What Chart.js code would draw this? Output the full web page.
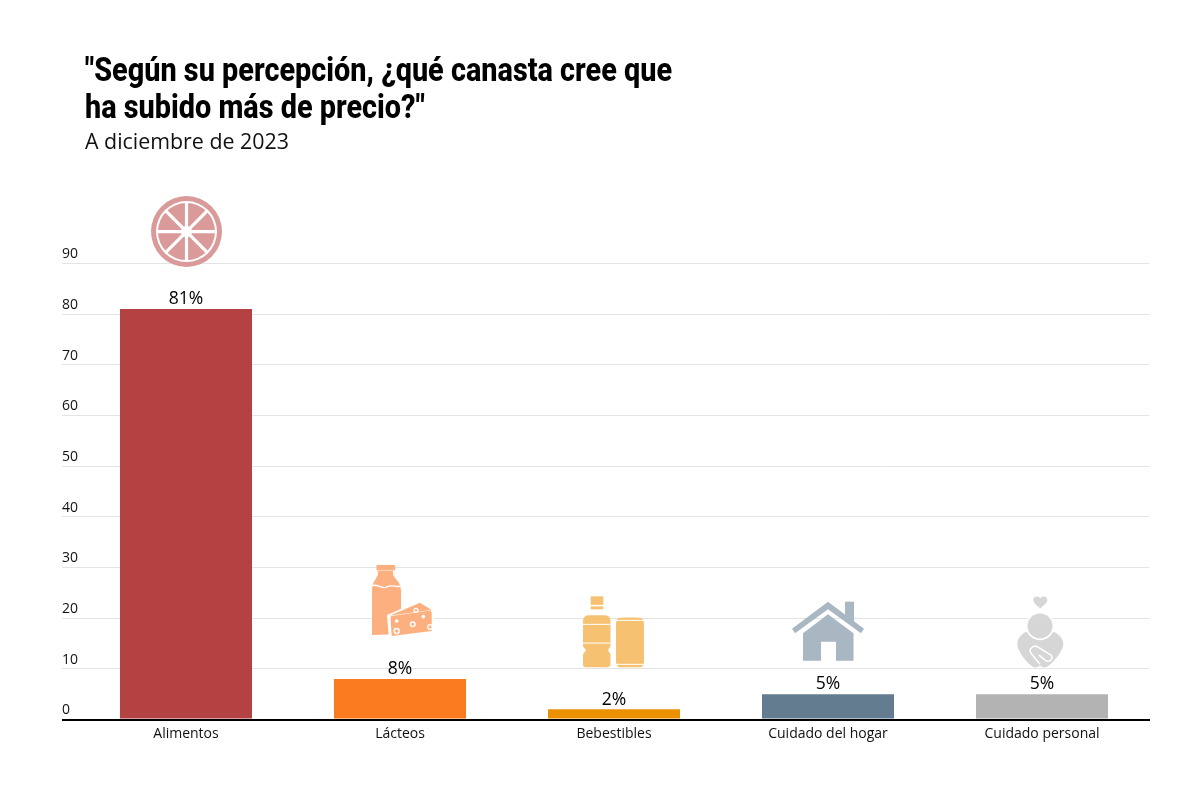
<!DOCTYPE html>
<html>
<head>
<meta charset="utf-8">
<title>Canastas</title>
<script src="https://cdn.jsdelivr.net/npm/chart.js@4"></script>
<style>
    body { margin: 0; background: #fff; width: 1200px; height: 800px; overflow: hidden; position: relative; }
    #chart { position: absolute; left: 0; top: 0; }
    h1 { position: absolute; left: 85px; top: 51px; margin: 0; font: 800 34px/37px Roboto, sans-serif; color: #000; white-space: nowrap; transform: scaleX(0.848); transform-origin: left top; }
    h2 { position: absolute; left: 85px; top: 126px; margin: 0; font: normal 21.4px/30px "Open Sans", sans-serif; color: #111; white-space: nowrap; }
</style>
</head>
<body>
<canvas id="chart" width="1200" height="800"></canvas>
<h1>"Según su percepción, ¿qué canasta cree que<br>ha subido más de precio?"</h1>
<h2>A diciembre de 2023</h2>
<script>
const categories = ['Alimentos', 'Lácteos', 'Bebestibles', 'Cuidado del hogar', 'Cuidado personal'];
const values = [81, 8, 2, 5, 5];
const barColors = ['#B54242', '#F97A1F', '#EB9100', '#637C90', '#B3B3B3'];
const iconColors = ['#DA9A9A', '#FDB07F', '#F6C272', '#A9B7C2', '#D6D6D6'];
const iconNames = ['citrus', 'dairy', 'drinks', 'house', 'person'];
const tickFont = { family: '"Open Sans", sans-serif', size: 14 };

// icons are drawn around (0,0)
const icons = {
    citrus(ctx, color) {
        ctx.translate(0.5, 0.5);
        ctx.fillStyle = color;
        ctx.beginPath();
        ctx.arc(0, 0, 35.5, 0, Math.PI * 2);
        ctx.fill();
        ctx.fillStyle = '#fff';
        ctx.beginPath();
        ctx.arc(0, 0, 30.5, 0, Math.PI * 2);
        ctx.fill();
        ctx.fillStyle = color;
        ctx.beginPath();
        ctx.arc(0, 0, 28.5, 0, Math.PI * 2);
        ctx.fill();
        ctx.strokeStyle = '#fff';
        ctx.lineWidth = 3.2;
        for (let i = 0; i < 4; i++) {
            const a = i * Math.PI / 4;
            ctx.beginPath();
            ctx.moveTo(-30 * Math.cos(a), -30 * Math.sin(a));
            ctx.lineTo(30 * Math.cos(a), 30 * Math.sin(a));
            ctx.stroke();
        }
        ctx.fillStyle = '#fff';
        ctx.beginPath();
        ctx.arc(0, 0, 5.5, 0, Math.PI * 2);
        ctx.fill();
    },
    dairy(ctx, color) {
        ctx.fillStyle = color;
        ctx.fillRect(-23.5, -34, 18.5, 5.5);
        ctx.fill(new Path2D('M-22 -28 H-7 V-25 C-6 -20 1 -18 1 -8 V35 L-28 36 V-8 C-28 -18 -23 -20 -22 -25 Z'));
        ctx.strokeStyle = '#fff';
        ctx.lineWidth = 1.4;
        ctx.stroke(new Path2D('M-28 -13 C-23 -16 -18 -9 -13 -12 C-8 -15 -4 -11 1 -13'));
        ctx.fillStyle = '#fff';
        ctx.fill(new Path2D('M-13 16 L20 1.5 L34 11 V34 L-11 40 Z'));
        ctx.fillStyle = color;
        ctx.fill(new Path2D('M-10 16.5 L20 3.7 L31.7 11 Z'));
        ctx.fill(new Path2D('M-9.5 19 L31.7 13 V32 L-8.3 37 Z'));
        ctx.fill(new Path2D('M-9 17 L31 11.5 V13.5 L-9 19.5 Z'));
        [[-3.3, 32, 3.2], [12.7, 25.3, 3], [30, 28, 3], [16, 11.3, 2.6]].forEach(h => {
            ctx.fillStyle = '#fff';
            ctx.beginPath();
            ctx.arc(h[0], h[1], h[2], 0, Math.PI * 2);
            ctx.fill();
            ctx.fillStyle = color;
            ctx.beginPath();
            ctx.arc(h[0], h[1], h[2] - 1.4, 0, Math.PI * 2);
            ctx.fill();
        });
        ctx.fillStyle = '#fff';
        [[-3.3, 22, 1.8], [23.3, 17.7, 1.8]].forEach(h => {
            ctx.beginPath();
            ctx.arc(h[0], h[1], h[2], 0, Math.PI * 2);
            ctx.fill();
        });
    },
    drinks(ctx, color) {
        ctx.fillStyle = color;
        ctx.fillRect(-23.3, -35, 12.6, 8.5);
        ctx.fillRect(-23.3, -25, 12.6, 3);
        ctx.fill(new Path2D('M-26 -16 H-9 C-5 -16 -3.5 -13 -3.5 -10 V15 L-6 19 L-3.5 23 V33 C-3.5 35 -5 36 -7 36 H-28 C-30 36 -31 35 -31 33 V23 L-28 19 L-31 15 V-10 C-31 -13 -29 -16 -26 -16 Z'));
        ctx.fill(new Path2D('M4 -13 C5 -14 27 -14 28 -13 C30 -11 30 -8 30 -5 V30 C30 33 29 35 27 36 H5 C3 35 2 33 2 30 V-5 C2 -8 2 -11 4 -13 Z'));
        ctx.strokeStyle = '#fff';
        ctx.lineWidth = 1;
        ctx.stroke(new Path2D('M-31 -7 H-3.5 M-31 11.7 H-3.5 M2 -11 H30 M2 33 H30'));
    },
    house(ctx, color) {
        ctx.fillStyle = color;
        ctx.fillRect(17, -29.5, 9, 20);
        ctx.fill(new Path2D('M0 -29.5 L36 -2.5 L33 2 L0 -22 L-33 2 L-36 -2.5 Z'));
        ctx.fill(new Path2D('M0 -17 L25.5 2 V29.5 H8 V10.5 H-7 V29.5 H-25 V2 Z'));
    },
    person(ctx, color) {
        ctx.fillStyle = color;
        ctx.fill(new Path2D('M-1.7 -22.7 C-5 -26 -8.7 -28 -8.7 -31.5 C-8.7 -35 -4 -36 -1.7 -33 C0.6 -36 5.3 -35 5.3 -31.5 C5.3 -28 1.6 -26 -1.7 -22.7 Z'));
        ctx.fill(new Path2D('M-17 1 C-22 4 -24.7 8 -24.7 13 C-24.7 20 -14 33 -9 35.5 C-6 37 -4 36 -2 34 C0 36 2 37 5 35.5 C10 33 21.3 20 21.3 13 C21.3 8 18 4 13 1 Z'));
        ctx.fillStyle = '#fff';
        ctx.beginPath();
        ctx.arc(-2, -5.2, 14.2, 0, Math.PI * 2);
        ctx.fill();
        ctx.fillStyle = color;
        ctx.beginPath();
        ctx.arc(-2, -5.2, 12.5, 0, Math.PI * 2);
        ctx.fill();
        ctx.strokeStyle = '#fff';
        ctx.lineWidth = 1.5;
        ctx.stroke(new Path2D('M-2 33 L-11 22 C-14 18 -8 13 -4 16 L9 24 C12 28 7 32 3 29 L-3 24'));
    }
};
// distance from the top of the bar up to the middle of each icon
const iconLift = [78, 80, 78, 63, 63];

const iconsAndLabels = {
    id: 'iconsAndLabels',
    afterDatasetsDraw(chart) {
        const ctx = chart.ctx;
        const meta = chart.getDatasetMeta(0);
        meta.data.forEach((bar, i) => {
            ctx.save();
            ctx.fillStyle = '#000';
            ctx.font = '17.5px "Open Sans", sans-serif';
            ctx.textAlign = 'center';
            ctx.textBaseline = 'bottom';
            ctx.fillText(values[i] + '%', bar.x, bar.y - 1);
            ctx.translate(bar.x, bar.y - iconLift[i]);
            icons[iconNames[i]](ctx, iconColors[i]);
            ctx.restore();
        });
    }
};

new Chart(document.getElementById('chart').getContext('2d'), {
    type: 'bar',
    data: {
        labels: categories,
        datasets: [{
            data: values,
            backgroundColor: barColors,
            categoryPercentage: 1,
            barPercentage: 0.617,
            clip: false
        }]
    },
    options: {
        responsive: false,
        animation: false,
        devicePixelRatio: 1,
        layout: { padding: { left: 62, right: 51, top: 212.8, bottom: 50.5 } },
        plugins: { legend: { display: false }, tooltip: { enabled: false } },
        scales: {
            x: {
                grid: { display: false, drawTicks: false },
                border: { color: '#000', width: 2, z: 1 },
                ticks: { color: '#111', font: tickFont, padding: 6, maxRotation: 0 },
                afterFit(scale) { scale.height = 30; }
            },
            y: {
                min: 0,
                max: 100,
                afterFit(scale) { scale.width = 17; },
                border: { display: false },
                grid: {
                    tickLength: 17,
                    color: ctx => ctx.tick.value === 100 ? 'rgba(0,0,0,0)' : ctx.tick.value === 0 ? '#000' : '#E4E4E4',
                    lineWidth: ctx => ctx.tick.value === 0 ? 2 : 1
                },
                ticks: {
                    stepSize: 10,
                    color: '#111',
                    font: tickFont,
                    crossAlign: 'far',
                    labelOffset: -9,
                    padding: 0,
                    callback: value => value === 100 ? '' : value
                }
            }
        }
    },
    plugins: [iconsAndLabels]
});
</script>
</body>
</html>
